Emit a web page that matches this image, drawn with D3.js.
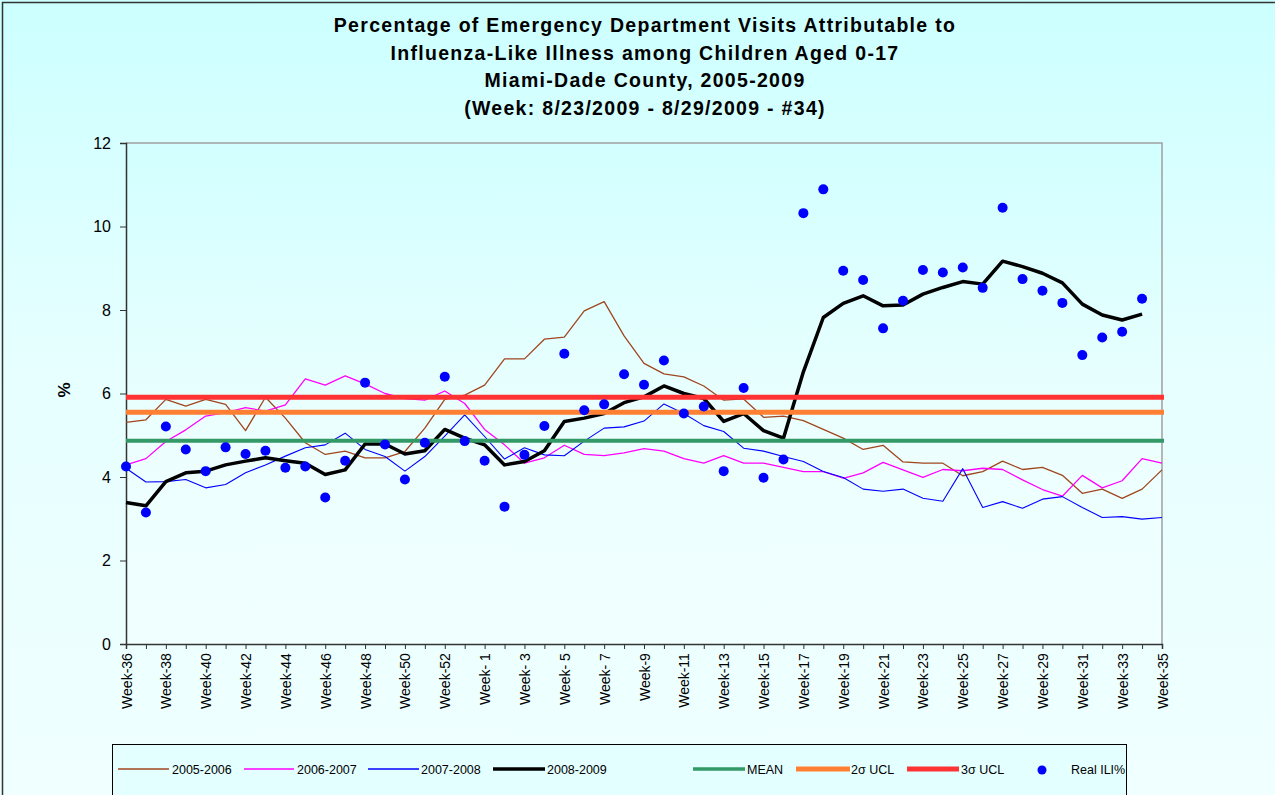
<!DOCTYPE html>
<html><head><meta charset="utf-8">
<script src="https://cdn.jsdelivr.net/npm/d3@7"></script>
<style>html,body{margin:0;padding:0;background:#eaffff;overflow:hidden}svg{display:block}</style>
</head><body><svg id="c" width="1275" height="795"></svg>
<script>
const weeks = ["Week-36","Week-37","Week-38","Week-39","Week-40","Week-41","Week-42","Week-43","Week-44","Week-45","Week-46","Week-47","Week-48","Week-49","Week-50","Week-51","Week-52","Week-53",
"Week- 1","Week- 2","Week- 3","Week- 4","Week- 5","Week- 6","Week- 7","Week- 8","Week-9","Week-10","Week-11","Week-12","Week-13","Week-14","Week-15","Week-16","Week-17","Week-18","Week-19","Week-20","Week-21","Week-22","Week-23","Week-24","Week-25","Week-26","Week-27","Week-28","Week-29","Week-30","Week-31","Week-32","Week-33","Week-34","Week-35"];
const s0506 = [5.31,5.37,5.86,5.70,5.86,5.74,5.11,5.91,5.41,4.82,4.54,4.62,4.46,4.46,4.61,5.17,5.86,5.96,6.20,6.83,6.83,7.30,7.35,7.98,8.20,7.38,6.72,6.47,6.40,6.18,5.84,5.87,5.43,5.46,5.35,5.14,4.93,4.66,4.76,4.36,4.33,4.33,4.03,4.13,4.38,4.18,4.23,4.04,3.61,3.71,3.49,3.71,4.17];
const s0607 = [4.29,4.44,4.85,5.13,5.46,5.54,5.66,5.58,5.73,6.35,6.20,6.42,6.23,6.00,5.88,5.84,6.06,5.76,5.14,4.77,4.33,4.46,4.76,4.54,4.51,4.58,4.68,4.62,4.44,4.33,4.51,4.33,4.33,4.23,4.13,4.13,3.97,4.10,4.35,4.17,3.99,4.18,4.15,4.21,4.18,3.93,3.70,3.54,4.04,3.74,3.91,4.44,4.33];
const s0708 = [4.21,3.88,3.89,3.94,3.74,3.82,4.10,4.29,4.50,4.70,4.77,5.05,4.66,4.49,4.14,4.49,4.98,5.49,4.97,4.43,4.70,4.53,4.51,4.86,5.17,5.20,5.34,5.75,5.52,5.23,5.09,4.69,4.62,4.49,4.37,4.13,3.99,3.71,3.66,3.71,3.49,3.42,4.20,3.27,3.41,3.25,3.47,3.53,3.27,3.03,3.05,2.99,3.03];
const s0809 = [3.39,3.31,3.89,4.10,4.14,4.29,4.38,4.46,4.39,4.33,4.06,4.17,4.79,4.79,4.55,4.63,5.14,4.93,4.77,4.29,4.37,4.63,5.33,5.41,5.52,5.78,5.92,6.18,6.00,5.88,5.33,5.52,5.11,4.93,6.52,7.82,8.16,8.34,8.10,8.12,8.38,8.54,8.68,8.62,9.17,9.04,8.88,8.65,8.14,7.88,7.76,7.90];
const realILI = [4.25,3.15,5.21,4.66,4.14,4.71,4.55,4.63,4.22,4.25,3.51,4.39,6.26,4.78,3.94,4.82,6.40,4.86,4.39,3.29,4.53,5.22,6.95,5.60,5.74,6.46,6.21,6.79,5.52,5.69,4.14,6.13,3.98,4.42,10.32,10.89,8.94,8.72,7.56,8.22,8.96,8.90,9.02,8.53,10.45,8.74,8.46,8.17,6.92,7.34,7.48,8.27];
const meanVal = 4.87, ucl2 = 5.55, ucl3 = 5.91;
const yTicks = [0,2,4,6,8,10,12];
const titleLines = ["Percentage of Emergency Department Visits Attributable to","Influenza-Like Illness among Children Aged 0-17","Miami-Dade County, 2005-2009","(Week: 8/23/2009 - 8/29/2009 - #34)"];

const svg = d3.select("#c");
const defs = svg.append("defs");
const g1 = defs.append("linearGradient").attr("id","bg").attr("x1",0).attr("y1",0).attr("x2",0).attr("y2",1);
g1.append("stop").attr("offset","0%").attr("stop-color","#ccffff");
g1.append("stop").attr("offset","45%").attr("stop-color","#e6ffff");
g1.append("stop").attr("offset","100%").attr("stop-color","#f0ffff");
const g2 = defs.append("linearGradient").attr("id","pbg").attr("x1",0).attr("y1",0).attr("x2",0).attr("y2",1);
g2.append("stop").attr("offset","0%").attr("stop-color","#d2ffff");
g2.append("stop").attr("offset","60%").attr("stop-color","#ecfffe");
g2.append("stop").attr("offset","100%").attr("stop-color","#f0ffff");

svg.append("rect").attr("x",0).attr("y",0).attr("width",1275).attr("height",795).attr("fill","url(#bg)");
svg.append("rect").attr("x",2.5).attr("y",2.5).attr("width",1290).attr("height",820).attr("fill","none").attr("stroke","#333").attr("stroke-width",1.5);

const L=126, R=1162, T=143, B=644;
const x = d3.scalePoint().domain(weeks).range([L,R]).padding(0);
const y = d3.scaleLinear().domain([0,12]).range([B,T]);

svg.append("rect").attr("x",L).attr("y",T).attr("width",R-L).attr("height",B-T).attr("fill","url(#pbg)");
svg.append("path").attr("d",`M${L},${T}H${R}V${B}`).attr("fill","none").attr("stroke","#a0a0a0").attr("stroke-width",1.5);

// title
svg.append("g").selectAll("text").data(titleLines).join("text")
  .attr("x",645).attr("y",(d,i)=>32+i*27.7).attr("text-anchor","middle")
  .attr("font-family","Liberation Sans, Arial, sans-serif").attr("font-weight","bold").attr("font-size",19.5)
  .attr("letter-spacing","1.3px").attr("fill","#000").text(d=>d);

// y axis
const ya = svg.append("g").attr("transform",`translate(${L},0)`).call(d3.axisLeft(y).tickValues(yTicks).tickSize(6).tickPadding(9));
ya.select(".domain").attr("stroke","#333").attr("stroke-width",1.5);
ya.selectAll(".tick line").attr("stroke","#333");
ya.selectAll("text").attr("font-family","Liberation Sans, Arial, sans-serif").attr("font-size",16).attr("fill","#000");

svg.append("text").attr("transform","translate(70,390) rotate(-90)").attr("text-anchor","middle")
  .attr("font-family","Liberation Sans, Arial, sans-serif").attr("font-weight","bold").attr("font-size",17).text("%");

// x axis
const xa = svg.append("g").attr("transform",`translate(0,${B})`).call(d3.axisBottom(x).tickSize(5).tickFormat((d,i)=> i%2===0 ? d : ""));
xa.select(".domain").attr("stroke","#333").attr("stroke-width",1.5);
xa.selectAll(".tick line").attr("stroke","#333");
xa.selectAll("text").attr("font-family","Liberation Sans, Arial, sans-serif").attr("font-size",14).attr("fill","#000")
  .attr("transform","rotate(-90)").attr("text-anchor","end").attr("dx","-0.65em").attr("dy","0").attr("x",0).attr("y",0)
  .style("dominant-baseline","central");

const line = d3.line().x((d,i)=>x(weeks[i])).y(d=>y(d));
const series = [
  {name:"2005-2006", data:s0506, color:"#a0461e", w:1.3},
  {name:"2006-2007", data:s0607, color:"#ff00ff", w:1.3},
  {name:"2007-2008", data:s0708, color:"#0000ff", w:1.1},
  {name:"2008-2009", data:s0809, color:"#000000", w:3.5}
];
series.forEach(s=>{
  svg.append("path").datum(s.data).attr("d",line).attr("fill","none").attr("stroke",s.color).attr("stroke-width",s.w).attr("stroke-linejoin","round");
});
const refs = [
  {name:"MEAN", v:meanVal, color:"#339966", w:4},
  {name:"2σ UCL", v:ucl2, color:"#ff8033", w:5},
  {name:"3σ UCL", v:ucl3, color:"#ff3333", w:5}
];
refs.forEach(r=>{
  svg.append("line").attr("x1",L).attr("x2",R+2).attr("y1",y(r.v)).attr("y2",y(r.v)).attr("stroke",r.color).attr("stroke-width",r.w);
});
svg.append("g").selectAll("circle").data(realILI).join("circle")
  .attr("cx",(d,i)=>x(weeks[i])).attr("cy",d=>y(d)).attr("r",5).attr("fill","#0000ff");

// legend
const lg = svg.append("g");
lg.append("rect").attr("x",112.5).attr("y",744.5).attr("width",1014).attr("height",70).attr("fill","#e4ffff").attr("stroke","#000").attr("stroke-width",1);
const legItems = [
  {name:"2005-2006", color:"#a0461e", w:1.5, x1:118, x2:169, tx:172},
  {name:"2006-2007", color:"#ff00ff", w:1.5, x1:244, x2:294, tx:297},
  {name:"2007-2008", color:"#0000ff", w:1.3, x1:368, x2:419, tx:421},
  {name:"2008-2009", color:"#000000", w:3.5, x1:493, x2:545, tx:547},
  {name:"MEAN", color:"#339966", w:3.5, x1:693, x2:745, tx:747},
  {name:"2σ UCL", color:"#ff8033", w:5, x1:796, x2:850, tx:851},
  {name:"3σ UCL", color:"#ff3333", w:5, x1:907, x2:959, tx:961}
];
const ly = 769;
legItems.forEach(it=>{
  lg.append("line").attr("x1",it.x1).attr("x2",it.x2).attr("y1",ly).attr("y2",ly).attr("stroke",it.color).attr("stroke-width",it.w);
  lg.append("text").attr("x",it.tx).attr("y",ly+4.5).attr("font-family","Liberation Sans, Arial, sans-serif").attr("font-size",12.5).text(it.name);
});
lg.append("circle").attr("cx",1042).attr("cy",ly+1).attr("r",4.5).attr("fill","#0000ff");
lg.append("text").attr("x",1071).attr("y",ly+4.5).attr("font-family","Liberation Sans, Arial, sans-serif").attr("font-size",12.5).text("Real ILI%");
</script></body></html>
